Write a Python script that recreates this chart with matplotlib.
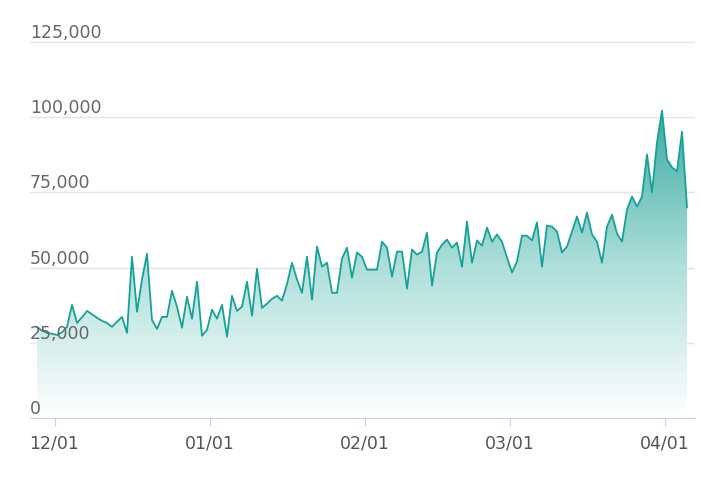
import matplotlib
matplotlib.use("Agg")
import matplotlib.pyplot as plt
import matplotlib.dates as mdates
import numpy as np
import datetime as dt
from matplotlib.colors import LinearSegmentedColormap

start_date = "2023-11-28"
values_k = [30.3, 29, 28.3, 28, 27.6, 28.5, 30.3, 37.6, 31.6, 33.5, 35.6, 34.5, 33.3, 32.3, 31.6, 30.3,
            32, 33.6, 28.3, 53.6, 35.3, 46, 54.6, 32.6, 29.6, 33.6, 33.6, 42.3, 37, 30, 40.3, 33, 45.3,
            27.3, 29.3, 36, 33, 37.6, 27, 40.6, 35.6, 37, 45.3, 34, 49.6, 36.6, 38, 39.6, 40.6, 39, 44.5,
            51.6, 46, 41.6, 53.6, 39.3, 57, 50.3, 51.6, 41.6, 41.6, 53, 56.6, 46.6, 55, 53.6, 49.3, 49.3,
            49.3, 58.6, 56.6, 47, 55.3, 55.3, 43, 56, 54.3, 55.3, 61.6, 44, 55, 57.6, 59.3, 56.6, 58.3,
            50.3, 65.3, 51.6, 59, 57.3, 63.3, 58.6, 61, 58.6, 53.3, 48.3, 52, 60.6, 60.6, 59, 65, 50.3,
            64, 63.6, 62, 55, 57, 62, 67, 61.6, 68.3, 61, 58.6, 51.6, 63.6, 67.6, 61.3, 58.6, 69.3, 73.6,
            70.3, 73.6, 87.6, 75, 91.6, 102.2, 86, 83.3, 82, 95.2, 70]
yticks = [0, 25000, 50000, 75000, 100000, 125000]
xtick_dates = ["2023-12-01", "2024-01-01", "2024-02-01", "2024-03-01", "2024-04-01"]

values = np.array(values_k) * 1000
d0 = dt.date.fromisoformat(start_date)
dates = [d0 + dt.timedelta(days=i) for i in range(len(values))]
xn = mdates.date2num(dates) - 0.5

fig = plt.figure(figsize=(7.14, 4.84), dpi=100)
ax = fig.add_axes([30/714, 1-418/484, 665/714, 386/484])
line_c = "#17a297"
ax.set_xlim(xn[0] - 1.4, xn[-1] + 1.6)
ax.set_ylim(0, 128300)

poly = ax.fill_between(xn, values, 0, color="none")
cmap = LinearSegmentedColormap.from_list("g", ["#ffffff", "#addfda", "#3aab a1".replace(" ", "")])
grad = np.linspace(0, 1, 256).reshape(-1, 1)
im = ax.imshow(grad, aspect="auto", cmap=cmap, origin="lower",
               extent=[xn[0], xn[-1], 0, values.max()], zorder=1)
path = poly.get_paths()[0]
im.set_clip_path(path, transform=ax.transData)
ax.plot(xn, values, color=line_c, lw=1.3, zorder=3)

for y in yticks:
    ax.axhline(y, color="#e3e3e8", lw=1, zorder=0)
    ax.text(0.0, y + 3000, f"{y:,}", transform=ax.get_yaxis_transform(),
            ha="left", va="center", fontsize=12.5, color="#666666", zorder=4)
ax.set_yticks([])
for s in ["top", "right", "left"]:
    ax.spines[s].set_visible(False)
ax.spines["bottom"].set_color("#cfcde6")
ax.set_xticks(mdates.date2num([dt.date.fromisoformat(d) for d in xtick_dates]))
ax.xaxis.set_major_formatter(mdates.DateFormatter("%m/%d"))
ax.tick_params(axis="x", colors="#cfcde6", labelcolor="#555555", labelsize=12.5, length=6, pad=6)
fig.savefig("out.png", dpi=100)
